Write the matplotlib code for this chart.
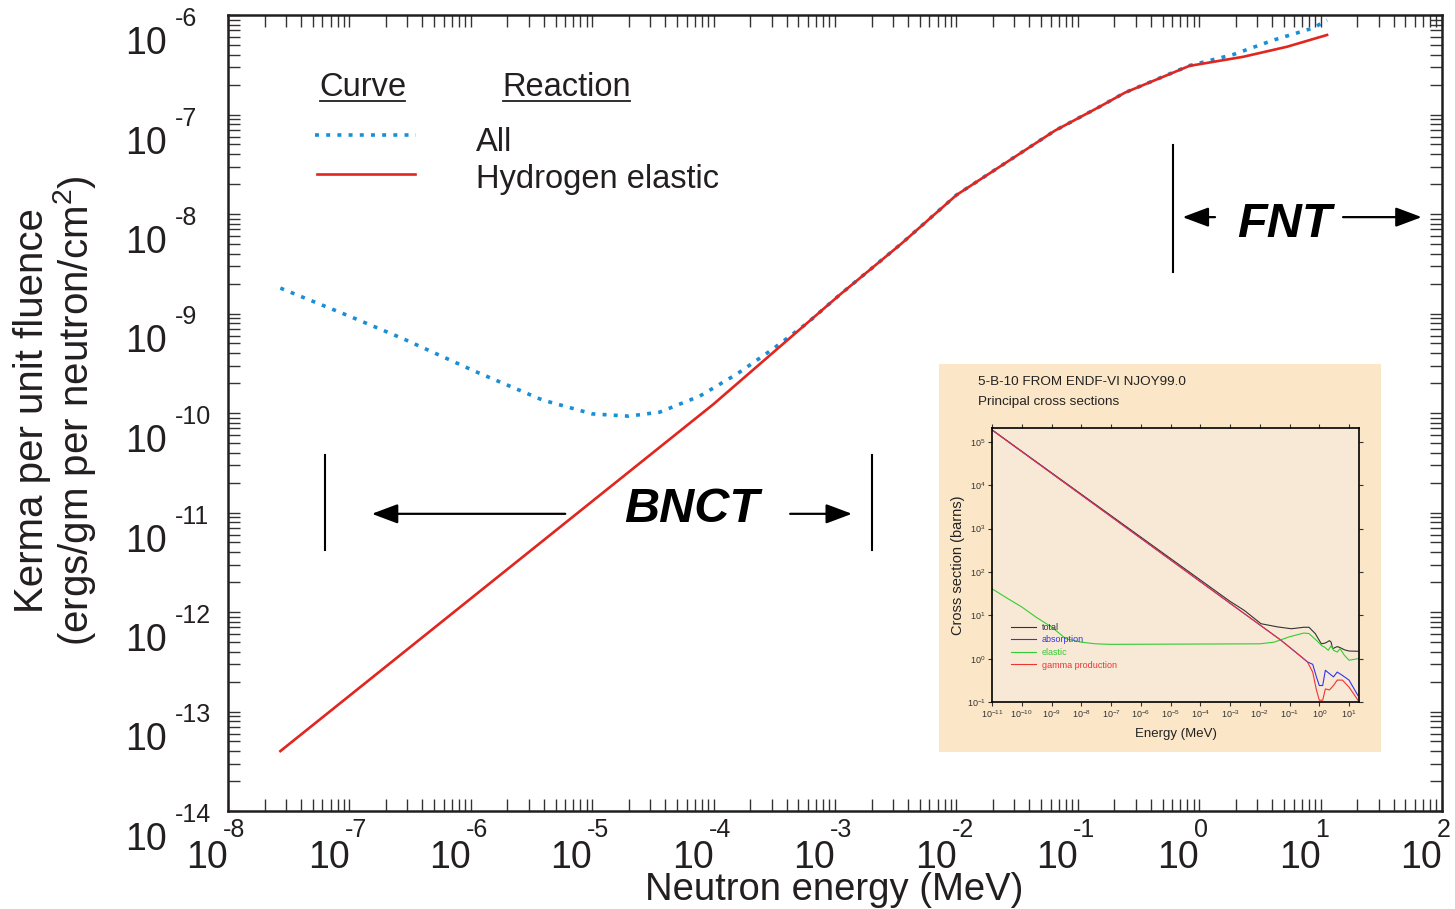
import matplotlib
matplotlib.use("Agg")
import matplotlib.pyplot as plt
from matplotlib.ticker import LogLocator, NullFormatter
from matplotlib.patches import Rectangle
from matplotlib.lines import Line2D
from matplotlib.transforms import IdentityTransform

plt.rcParams['font.family'] = ['Liberation Sans', 'DejaVu Sans']
plt.rcParams['mathtext.fontset'] = 'custom'
plt.rcParams['mathtext.rm'] = 'Liberation Sans'
plt.rcParams['mathtext.it'] = 'Liberation Sans:italic'
plt.rcParams['mathtext.bf'] = 'Liberation Sans:bold'

# main chart: kerma per unit fluence vs neutron energy
e_all = [2.7e-8, 1e-7, 2.75e-7, 1.1e-6, 3.9e-6, 1e-5, 2e-5, 3.6e-5, 7.7e-5, 1.56e-4,
         3.08e-4, 5.9e-4, 1.1e-3, 3.5e-3, 1e-2, 6.5e-2, 0.15, 0.245, 0.83, 1.9, 4.1, 8.7, 11.3]
k_all = [1.8e-9, 9.4e-10, 5.6e-10, 2.6e-10, 1.35e-10, 9.8e-11, 9.3e-11, 1.02e-10, 1.48e-10,
         2.47e-10, 4.4e-10, 8.0e-10, 1.55e-9, 5.0e-9, 1.55e-8, 6.9e-8, 1.19e-7, 1.66e-7,
         3.1e-7, 4.0e-7, 5.6e-7, 7.4e-7, 8.9e-7]
e_h = [2.7e-8, 1e-4, 1.1e-3, 3.5e-3, 1e-2, 6.5e-2, 0.15, 0.245, 0.83, 2.3, 5.3, 11.3]
k_h = [4.0e-14, 1.23e-10, 1.55e-9, 5.0e-9, 1.55e-8, 6.9e-8, 1.19e-7, 1.66e-7, 3.08e-7, 3.8e-7,
       4.8e-7, 6.3e-7]
x_decades = list(range(-8, 3))
y_decades = list(range(-14, -5))

# inset: B-10 cross sections
e_1v = [1e-11, 1e-3, 5e-2, 0.115, 0.25, 0.4]
s_1v = [1.9e5, 19, 2.7, 1.7, 1.1, 0.84]
e_tot = [1e-11, 1e-3, 3e-3, 1.1e-2, 4e-2, 0.115, 0.3, 0.45, 0.73, 1.17, 1.6, 2.2, 2.5, 2.8,
         4, 5, 7, 10, 20]
s_tot = [1.9e5, 21, 13, 6.4, 5.4, 4.9, 5.3, 5.3, 3.8, 2.2, 2.3, 2.6, 2.4, 1.7, 1.9, 1.8, 1.6,
         1.5, 1.48]
e_abs = [0.6, 0.8, 1.0, 1.3, 1.6, 2.2, 3, 4, 6, 10, 20]
s_abs = [0.74, 0.38, 0.24, 0.24, 0.54, 0.45, 0.38, 0.49, 0.41, 0.32, 0.14]
e_gam = [0.6, 0.8, 1.0, 1.3, 1.6, 2.2, 3, 4, 6, 10, 20]
s_gam = [0.49, 0.19, 0.11, 0.11, 0.2, 0.19, 0.24, 0.32, 0.32, 0.22, 0.11]
e_el = [1e-11, 3e-11, 1e-10, 3e-10, 1e-9, 3e-9, 1e-8, 3e-8, 1e-7, 1e-2, 3e-2, 0.1, 0.3, 0.45,
        0.8, 1.2, 1.5, 2, 2.5, 3, 4, 5, 7, 10, 20]
s_el = [41, 25.6, 15.6, 9.1, 5.4, 2.9, 2.4, 2.2, 2.14, 2.2, 2.4, 3.2, 3.9, 3.8, 2.65, 2.0,
        1.85, 1.56, 2.0, 1.56, 1.42, 1.7, 1.19, 0.92, 1.0]

W, H = 1455, 909
fig = plt.figure(figsize=(W / 100, H / 100), dpi=100)
ax = fig.add_axes([228 / W, 1 - 811 / H, 1214 / W, 796 / H])
ax.set_xscale('log')
ax.set_yscale('log')
ax.set_xlim(1e-8, 1e2)
ax.set_ylim(1e-14, 1e-6)

blue = '#1a8fd8'
red = '#e0261f'
dotted = (0, (1.1, 2.0))
ax.plot(e_all, k_all, color=blue, lw=2.6, linestyle=dotted)
ax.plot(e_h, k_h, color=red, lw=1.9)

for axis in (ax.xaxis, ax.yaxis):
    axis.set_major_locator(LogLocator(base=10, numticks=30))
    axis.set_minor_locator(LogLocator(base=10, subs=range(2, 10), numticks=30))
    axis.set_minor_formatter(NullFormatter())
ax.tick_params(which='both', direction='in', top=True, right=True, length=8.5, width=1,
               color='#333333', labelbottom=False, labelleft=False)
for s in ax.spines.values():
    s.set_linewidth(1.8)
    s.set_color('#231f20')

# tick labels drawn as "10" with raised exponent
txtc = '#231f20'
for d in x_decades:
    ax.annotate('10', xy=(10.0 ** d, 0), xycoords=('data', 'axes fraction'),
                xytext=(0, -57), textcoords='offset pixels', ha='right', va='baseline',
                fontsize=27, color=txtc, annotation_clip=False)
    ax.annotate(str(d), xy=(10.0 ** d, 0), xycoords=('data', 'axes fraction'),
                xytext=(-5, -26), textcoords='offset pixels', ha='left', va='baseline',
                fontsize=18, color=txtc, annotation_clip=False)
for d in y_decades:
    ax.annotate('10', xy=(0, 10.0 ** d), xycoords=('axes fraction', 'data'),
                xytext=(-61, -39), textcoords='offset pixels', ha='right', va='baseline',
                fontsize=27, color=txtc, annotation_clip=False)
    ax.annotate(str(d), xy=(0, 10.0 ** d), xycoords=('axes fraction', 'data'),
                xytext=(-53, -11), textcoords='offset pixels', ha='left', va='baseline',
                fontsize=18, color=txtc, annotation_clip=False)

fig.text(834 / W, 1 - 900 / H, 'Neutron energy (MeV)', ha='center', va='baseline',
         fontsize=27.5, color=txtc)
fig.text(56 / W, 1 - 411 / H, 'Kerma per unit fluence\n(ergs/gm per neutron/cm$^2$)',
         rotation=90, ha='center', va='center', fontsize=29, color=txtc, linespacing=1.0)

# legend block
hdr1 = ax.text(0.111, 0.898, 'Curve', transform=ax.transAxes, ha='center', va='baseline',
               fontsize=23.5, color=txtc)
hdr2 = ax.text(0.279, 0.898, 'Reaction', transform=ax.transAxes, ha='center', va='baseline',
               fontsize=23.5, color=txtc)
ax.text(0.204, 0.829, 'All', transform=ax.transAxes, va='baseline', fontsize=23.5, color=txtc)
ax.text(0.204, 0.783, 'Hydrogen elastic', transform=ax.transAxes, va='baseline',
        fontsize=23.5, color=txtc)
ax.plot([0.0717, 0.155], [0.849, 0.849], transform=ax.transAxes, color=blue, lw=2.6,
        linestyle=dotted)
ax.plot([0.073, 0.154], [0.800, 0.800], transform=ax.transAxes, color=red, lw=1.9)

# BNCT / FNT annotations
arrow = dict(arrowstyle='-|>,head_length=0.8,head_width=0.3', lw=1.6, color='black',
             mutation_scale=20, shrinkA=0, shrinkB=0)
ax.plot([6.3e-8, 6.3e-8], [3.8e-11, 4.2e-12], color='black', lw=1.5)
ax.plot([2.0e-3, 2.0e-3], [3.8e-11, 4.2e-12], color='black', lw=1.5)
ax.annotate('', xy=(1.53e-7, 9.7e-12), xytext=(6.0e-6, 9.7e-12), arrowprops=arrow)
ax.annotate('', xy=(1.38e-3, 9.7e-12), xytext=(4.27e-4, 9.7e-12), arrowprops=arrow)
ax.text(6.6e-5, 1.08e-11, 'BNCT', ha='center', va='center', fontsize=35,
        fontweight='bold', fontstyle='italic', color='black')
ax.plot([0.61, 0.61], [4.9e-8, 2.6e-9], color='black', lw=1.5)
ax.annotate('', xy=(0.73, 9.3e-9), xytext=(1.35, 9.3e-9), arrowprops=arrow)
ax.annotate('', xy=(68, 9.3e-9), xytext=(15.3, 9.3e-9), arrowprops=arrow)
ax.text(5.0, 7.8e-9, 'FNT', ha='center', va='center', fontsize=35,
        fontweight='bold', fontstyle='italic', color='black')

# inset picture
fig.add_artist(Rectangle((939 / W, 1 - 752 / H), 442 / W, 388 / H, transform=fig.transFigure,
                         facecolor='#fbe6c7', edgecolor='none', zorder=2))
fig.text(978 / W, 1 - 382 / H, '5-B-10 FROM ENDF-VI NJOY99.0', fontsize=9.7, va='center',
         color='#222222', zorder=6)
fig.text(978 / W, 1 - 402 / H, 'Principal cross sections', fontsize=9.7, va='center',
         color='#222222', zorder=6)
ins = fig.add_axes([992 / W, 1 - 702 / H, 367 / W, 274 / H], facecolor='#f8e9d6')
ins.set_zorder(5)
ins.set_xscale('log')
ins.set_yscale('log')
ins.plot(e_tot, s_tot, color='#333333', lw=0.8, label='total')
ins.plot(e_1v + e_abs, s_1v + s_abs, color='#3333ee', lw=0.8, label='absorption')
ins.plot(e_el, s_el, color='#33cc33', lw=0.8, label='elastic')
ins.plot(e_1v + e_gam, s_1v + s_gam, color='#ee3333', lw=0.8, label='gamma production')
ins.set_xlim(1e-11, 21.6)
ins.set_ylim(0.1, 2.1e5)
ins.xaxis.set_major_locator(LogLocator(base=10, numticks=30))
ins.yaxis.set_major_locator(LogLocator(base=10, numticks=30))
ins.xaxis.set_minor_locator(plt.NullLocator())
ins.yaxis.set_minor_locator(plt.NullLocator())
ins.tick_params(direction='out', top=True, right=True, labelsize=6.5, length=3, width=0.8,
                pad=1.5, colors='#333333')
for s in ins.spines.values():
    s.set_linewidth(1.2)
ins.set_xlabel('Energy (MeV)', fontsize=9.5, color='#222222', labelpad=6)
ins.set_ylabel('Cross section (barns)', fontsize=10.5, color='#222222', labelpad=1)
ins.legend(loc='lower left', bbox_to_anchor=(0.035, 0.095), frameon=False, fontsize=6.5,
           labelcolor='linecolor', handlelength=2.8, labelspacing=0.4, borderpad=0.2,
           handletextpad=0.6)

# underline the legend headers
fig.canvas.draw()
rend = fig.canvas.get_renderer()
for t in (hdr1, hdr2):
    bb = t.get_window_extent(rend)
    base = ax.transAxes.transform(t.get_position())[1] - 5
    fig.add_artist(Line2D([bb.x0 + 1, bb.x1 - 1], [base, base], transform=IdentityTransform(),
                          color=txtc, lw=1.3))

fig.savefig('out.png', dpi=100)
